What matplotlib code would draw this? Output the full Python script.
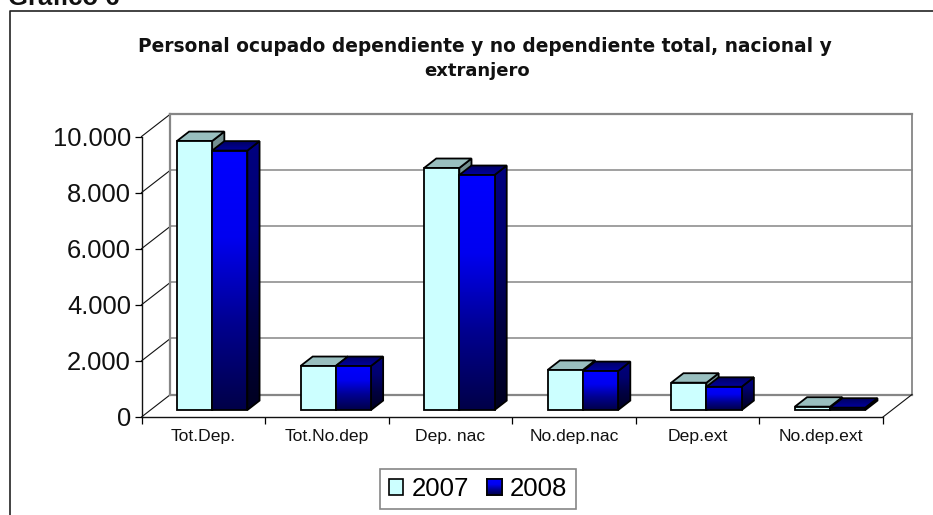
import matplotlib
matplotlib.use('Agg')
import matplotlib.pyplot as plt
import matplotlib.patches as patches
from matplotlib.colors import LinearSegmentedColormap
from matplotlib.lines import Line2D
import numpy as np

categories = ['Tot.Dep.', 'Tot.No.dep', 'Dep. nac', 'No.dep.nac', 'Dep.ext', 'No.dep.ext']
values_2007 = [9590, 1570, 8630, 1430, 975, 120]
values_2008 = [9250, 1570, 8380, 1390, 830, 85]
y_ticks = [0, 2000, 4000, 6000, 8000, 10000]
y_labels = ['0', '2.000', '4.000', '6.000', '8.000', '10.000']

W, H = 933, 515
plt.rcParams['font.family'] = ['Liberation Sans', 'DejaVu Sans']
fig = plt.figure(figsize=(W / 100, H / 100), dpi=100)

# front plane of the fake 3d box, in pixels
x0, x1, y0, y1 = 141.5, 883, 417, 136.5
ax = fig.add_axes([x0 / W, 1 - y0 / H, (x1 - x0) / W, (y0 - y1) / H])
ax.patch.set_alpha(0)

# depth of the box in data units
DX = 29 / 123.6
DY = 22.5 / (y0 - y1) * 10000
BAR_D0, BAR_D1 = 0.31, 0.73   # bars sit inside this depth range
BAR_W = 0.285
BAR_START = 0.214

def proj(x, y, d):
    return x + d * DX, y + d * DY

# gradients for the 2008 bars
front_cm = LinearSegmentedColormap.from_list('front', ['#0000FF', '#0000F0', '#000090', '#000048'])
side_cm = LinearSegmentedColormap.from_list('side', ['#000080', '#000070', '#000040', '#000020'])
top_cm = LinearSegmentedColormap.from_list('top', ['#000060', '#0000A0'])
grad = np.linspace(0, 1, 128).reshape(-1, 1)

def grad_poly(pts, cmap, zorder):
    pts = np.array(pts)
    poly = patches.Polygon(pts, closed=True, fc='none', ec='black', lw=1.3, zorder=zorder + 0.1, clip_on=False)
    ax.add_patch(poly)
    im = ax.imshow(grad, cmap=cmap, aspect='auto', zorder=zorder, vmin=0, vmax=1,
                   extent=[pts[:, 0].min(), pts[:, 0].max(), pts[:, 1].min(), pts[:, 1].max()])
    clip = patches.Polygon(pts, closed=True, transform=ax.transData)
    im.set_clip_path(clip)

def draw_bar(xl, val, z, solid):
    xr = xl + BAR_W
    front = [proj(xl, 0, BAR_D0), proj(xr, 0, BAR_D0), proj(xr, val, BAR_D0), proj(xl, val, BAR_D0)]
    side = [proj(xr, 0, BAR_D0), proj(xr, 0, BAR_D1), proj(xr, val, BAR_D1), proj(xr, val, BAR_D0)]
    top = [proj(xl, val, BAR_D0), proj(xr, val, BAR_D0), proj(xr, val, BAR_D1), proj(xl, val, BAR_D1)]
    if solid:
        for pts, col in [(side, '#739090'), (top, '#99BFBF'), (front, '#CCFFFF')]:
            ax.add_patch(patches.Polygon(pts, closed=True, fc=col, ec='black', lw=1.3, zorder=z, clip_on=False))
    else:
        grad_poly(side, side_cm, z)
        grad_poly(top, top_cm, z + 0.2)
        grad_poly(front, front_cm, z + 0.4)

# walls and gridlines
n = len(categories)
gray = '#868686'
for t in y_ticks:
    bx, by = proj(0, t, 1)
    ax.plot([0, bx], [t, by], color='#111111', lw=0.8, clip_on=False, zorder=1)
    ax.plot([bx, n + DX], [by, by], color=gray, lw=1.6 if t in (0, 10000) else 1.1, clip_on=False, zorder=1)
ax.plot([DX, DX], [DY, 10000 + DY], color=gray, lw=1.6, clip_on=False, zorder=1)
ax.plot([n + DX, n + DX], [DY, 10000 + DY], color=gray, lw=1.3, clip_on=False, zorder=1)
ax.plot([n, n + DX], [0, DY], color='#111111', lw=0.8, clip_on=False, zorder=1)

for i in range(n):
    draw_bar(i + BAR_START, values_2007[i], 3 + i, True)
    draw_bar(i + BAR_START + BAR_W, values_2008[i], 3.5 + i, False)

ax.set_xlim(0, n)
ax.set_ylim(0, 10000)
for s in ['top', 'right']:
    ax.spines[s].set_visible(False)
for s in ['left', 'bottom']:
    ax.spines[s].set_linewidth(1.0)
    ax.spines[s].set_color('#111111')
ax.set_xticks(range(n + 1))
ax.set_xticklabels([])
ax.set_xticks(np.arange(n) + 0.5, categories, minor=True)
ax.tick_params(axis='x', which='major', length=5, width=0.9, direction='out')
ax.tick_params(axis='x', which='minor', length=0, labelsize=12.6, pad=9, labelcolor='#111111')
ax.set_yticks(y_ticks, y_labels)
ax.tick_params(axis='y', length=5, width=0.9, direction='out', labelsize=18.4, pad=2.5, labelcolor='#111111')

# legend
handles = [patches.Patch(fc='#CCFFFF', ec='black', lw=1.2, label='2007'),
           patches.Patch(fc='#0000B0', ec='black', lw=1.2, label='2008')]
leg = fig.legend(handles=handles, ncol=2, fontsize=18.5, loc='center',
                 bbox_to_anchor=(478 / W, 1 - 489 / H), fancybox=False, edgecolor=gray,
                 framealpha=1, handlelength=0.58, handleheight=0.58, handletextpad=0.32,
                 columnspacing=0.7, borderpad=0.33, borderaxespad=0)
leg.get_frame().set_linewidth(1.2)

# gradient in the 2008 swatch
fig.canvas.draw()
bb = leg.legend_handles[1].get_window_extent().transformed(fig.transFigure.inverted())
sw = fig.add_axes([bb.x0, bb.y0, bb.width, bb.height], zorder=10)
sw.imshow(grad, cmap=front_cm, aspect='auto')
sw.set_xticks([])
sw.set_yticks([])
for s in sw.spines.values():
    s.set_linewidth(1.2)

# titles
title_font = ['DejaVu Sans', 'Liberation Sans']
fig.text(484.5 / W, 1 - 52.5 / H, 'Personal ocupado dependiente y no dependiente total, nacional y',
         ha='center', va='baseline', fontsize=13.4, fontweight='bold', color='#111111', family=title_font)
fig.text(477.5 / W, 1 - 75.5 / H, 'extranjero', ha='center', va='baseline', fontsize=13,
         fontweight='bold', color='#111111', family=title_font)
fig.text(8 / W, 1 - 5 / H, 'Gráfico 6', ha='left', va='baseline', fontsize=18.5,
         fontweight='bold', color='#111111')

# outer frame, only left and top are inside the picture
fig.add_artist(Line2D([9.5 / W, 9.5 / W, 1], [0, 1 - 11 / H, 1 - 11 / H], color='#222222', lw=1.2))

fig.savefig('out.png', dpi=100)
